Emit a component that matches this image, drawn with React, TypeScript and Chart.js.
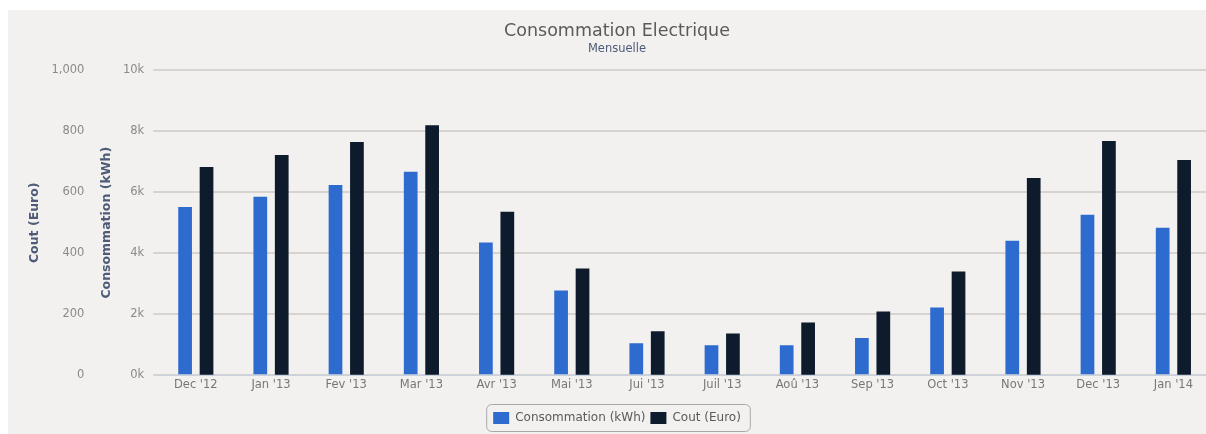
import { useEffect, useRef } from 'react';
import { Chart, ChartConfiguration, registerables } from 'chart.js';

Chart.register(...registerables);

const months = ["Dec '12", "Jan '13", "Fev '13", "Mar '13", "Avr '13", "Mai '13", "Jui '13", "Juil '13", "Aoû '13", "Sep '13", "Oct '13", "Nov '13", "Dec '13", "Jan '14"];
const consommationKwh = [5520, 5850, 6240, 6670, 4350, 2780, 1050, 980, 980, 1220, 2220, 4410, 5260, 4840];
const coutEuro = [683, 722, 765, 820, 536, 350, 144, 137, 173, 209, 340, 647, 768, 706];

const FONT = '"DejaVu Sans", Verdana, sans-serif';

// draws a rounded border round the legend items
const legendBorder = {
  id: 'legendBorder',
  afterDraw(chart: any) {
    const legend = chart.legend;
    if (!legend || !legend.legendHitBoxes || !legend.legendHitBoxes.length) return;
    const boxes = legend.legendHitBoxes;
    const left = Math.min(...boxes.map((b: any) => b.left)) - 7;
    const right = Math.max(...boxes.map((b: any) => b.left + b.width)) + 9;
    const top = Math.min(...boxes.map((b: any) => b.top)) - 8;
    const bottom = Math.max(...boxes.map((b: any) => b.top + b.height)) + 7;
    const ctx = chart.ctx;
    ctx.save();
    ctx.strokeStyle = '#a8a8a8';
    ctx.lineWidth = 1;
    ctx.beginPath();
    ctx.roundRect(left + 0.5, top + 0.5, right - left, bottom - top, 5);
    ctx.stroke();
    ctx.restore();
  },
};

export default function App() {
  const canvasRef = useRef<HTMLCanvasElement>(null);
  const chartRef = useRef<Chart | null>(null);

  useEffect(() => {
    if (!canvasRef.current) return;
    if (chartRef.current) chartRef.current.destroy();

    const config: ChartConfiguration = {
      type: 'bar',
      data: {
        labels: months,
        datasets: [
          {
            label: 'Consommation (kWh)',
            data: consommationKwh,
            backgroundColor: '#2d6bcf',
            yAxisID: 'y',
            categoryPercentage: 0.57,
            barPercentage: 0.64,
          },
          {
            label: 'Cout (Euro)',
            data: coutEuro,
            backgroundColor: '#0d1b2c',
            yAxisID: 'y1',
            categoryPercentage: 0.57,
            barPercentage: 0.64,
          },
        ],
      },
      options: {
        responsive: true,
        maintainAspectRatio: false,
        animation: false,
        layout: { padding: { left: 15, right: 0, top: 0, bottom: 0 } },
        plugins: {
          title: {
            display: true,
            text: 'Consommation Electrique',
            color: '#5a5a5a',
            font: { family: FONT, size: 17.5, weight: 'normal' },
            padding: { top: 10.5, bottom: 0 },
          },
          subtitle: {
            display: true,
            text: 'Mensuelle',
            color: '#4d5a78',
            font: { family: FONT, size: 11.5 },
            padding: { top: 1, bottom: 14 },
          },
          legend: {
            position: 'bottom',
            labels: {
              color: '#5a5a5a',
              font: { family: FONT, size: 12 },
              boxWidth: 16,
              boxHeight: 12,
              padding: 5,
            },
          },
          tooltip: { enabled: false },
        },
        scales: {
          x: {
            grid: { display: false, drawTicks: false },
            border: { display: true, color: '#c6d2e2', width: 1 },
            ticks: {
              color: '#777',
              font: { family: FONT, size: 11.5 },
              maxRotation: 0,
              padding: 3,
            },
            afterFit: (scale: any) => {
              scale.height += 12;
            },
          },
          y: {
            position: 'left',
            weight: 1,
            min: 0,
            max: 10000,
            grid: { color: '#d8d3cf', lineWidth: 2, drawTicks: true, tickLength: 5 },
            border: { display: false },
            ticks: {
              stepSize: 2000,
              color: '#8a8a8a',
              padding: 9,
              font: { family: FONT, size: 11.5 },
              callback: (v) => `${Number(v) / 1000}k`,
            },
            title: {
              display: true,
              text: 'Consommation (kWh)',
              color: '#4d5a78',
              font: { family: FONT, size: 12.5, weight: 'bold' },
              padding: { top: 5.5, bottom: 0 },
            },
          },
          y1: {
            position: 'left',
            weight: 2,
            min: 0,
            max: 1000,
            grid: { drawOnChartArea: false, drawTicks: false },
            border: { display: false },
            ticks: {
              stepSize: 200,
              color: '#8a8a8a',
              padding: 9,
              font: { family: FONT, size: 11.5 },
              callback: (v) => Number(v).toLocaleString('en-US'),
            },
            title: {
              display: true,
              text: 'Cout (Euro)',
              color: '#4d5a78',
              font: { family: FONT, size: 12.5, weight: 'bold' },
              padding: { top: 4.5, bottom: 0 },
            },
          },
        },
      },
      plugins: [legendBorder],
    };

    chartRef.current = new Chart(canvasRef.current, config);

    return () => {
      if (chartRef.current) {
        chartRef.current.destroy();
        chartRef.current = null;
      }
    };
  }, []);

  return (
    <div
      style={{
        position: 'fixed',
        left: 8,
        top: 10,
        width: 1203,
        height: 424,
        background: '#f3f1ef',
      }}
    >
      <canvas ref={canvasRef}></canvas>
    </div>
  );
}
